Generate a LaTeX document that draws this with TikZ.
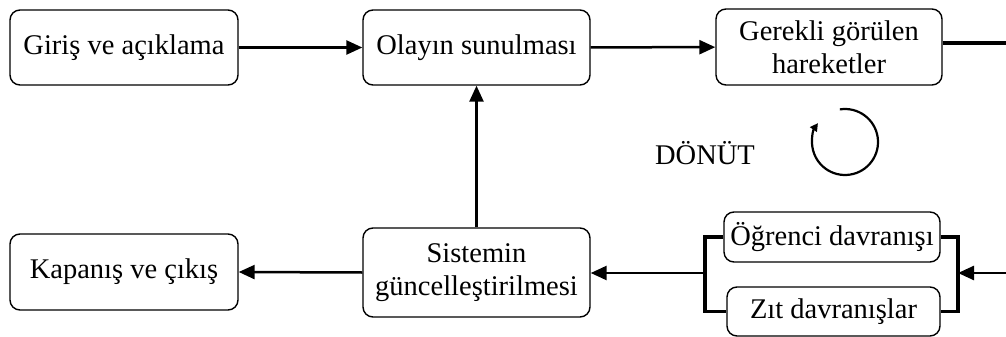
\documentclass[tikz,border=0pt]{standalone}
\usepackage{fontspec}
\setmainfont{Liberation Serif}
\usetikzlibrary{arrows.meta}
\tikzset{
  box/.style={draw, line width=1.4pt, rounded corners=10pt, align=center, inner sep=2pt,
    font=\fontsize{28.5}{33}\selectfont},
  arr/.style={line width=2.5pt, -{Triangle[length=16pt,width=14pt]}},
  thick line/.style={line width=3.5pt},
  lbl/.style={font=\fontsize{28.5}{33}\selectfont}
}
\begin{document}
\begin{tikzpicture}[x=1pt,y=-1pt]
\useasboundingbox (0,0) rectangle (1006,337);
\node[box, minimum width=228pt, minimum height=75pt] (g1) at (124,47.5) {Giriş ve açıklama};
\node[box, minimum width=227pt, minimum height=75pt] (ol) at (476.5,47.5) {Olayın sunulması};
\node[box, minimum width=226pt, minimum height=76pt] (ge) at (829,47) {Gerekli görülen\\hareketler};
\node[box, minimum width=228pt, minimum height=76pt] (ka) at (124,272) {Kapanış ve çıkış};
\node[box, minimum width=227pt, minimum height=89pt] (si) at (476.5,272.5) {Sistemin\\güncelleştirilmesi};
\node[box, minimum width=216pt, minimum height=50pt] (og) at (832,237) {Öğrenci davranışı};
\node[box, minimum width=213pt, minimum height=49pt] (zi) at (833.5,311.5) {Zıt davranışlar};
\node[lbl] (do) at (705,153) {DÖNÜT};
\coordinate (top) at (1006,43);
\coordinate (rin) at (1006,273);
\coordinate (bl) at (705,273);
\coordinate (br) at (958,273);
% connectors
\draw[arr] (g1) -- (ol);
\draw[arr] (ol) -- (ge);
\draw[thick line] (ge.east |- top) -- (top);
\draw[arr] (si.north) -- (ol.south);
\draw[arr] (si.west) -- (ka.east);
\draw[thick line] (og.west) -| (bl) |- (zi.west);
\draw[thick line] (og.east) -| (br) |- (zi.east);
\draw[arr] (rin) -- (br);
\draw[arr] (bl) -- (si.east |- bl);
% feedback loop symbol
\draw[line width=2.2pt, -{Triangle[length=8pt,width=8pt]}] (845,142) ++(-99:33) arc[start angle=-99, end angle=215, radius=33];
\end{tikzpicture}
\end{document}
